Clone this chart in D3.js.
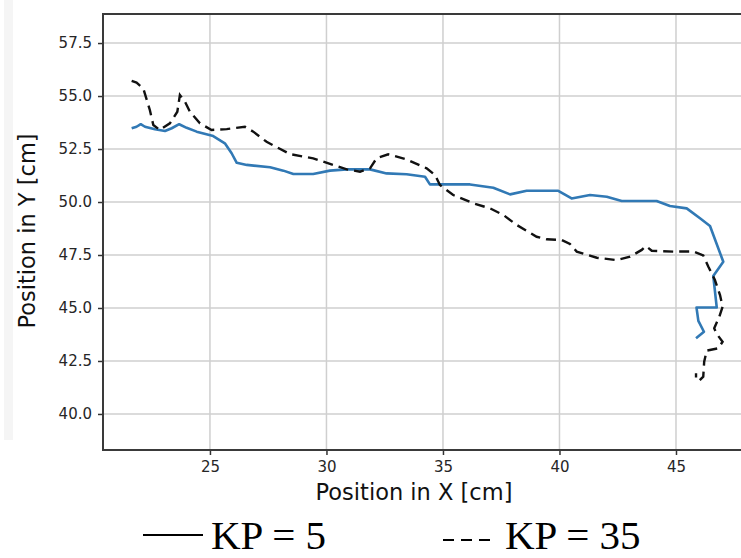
<!DOCTYPE html>
<html lang="en">
<head>
    <meta charset="UTF-8">
    <script src="https://d3js.org/d3.v7.min.js"></script>
    <style>
        html,
        body {
            margin: 0;
            background: #fff;
            overflow: hidden;
        }
    </style>
    <title>Position in X / Y</title>
</head>
<body>
<svg id="svg"></svg>
    <script>
        // KP = 5 path (solid, blue)
        const kp5X = [21.64, 21.85, 22.03, 22.21, 22.64, 23.07, 23.36, 23.68, 24.00, 24.43, 25.14, 25.64, 25.93, 26.15,
            26.58, 27.58, 28.15, 28.58, 29.43, 30.15, 30.87, 31.87, 32.58, 33.44, 34.23, 34.44, 34.87, 36.16, 37.16,
            37.88, 38.59, 39.95, 40.52, 41.31, 42.03, 42.67, 44.17, 44.74, 45.46, 46.03, 46.46, 47.03, 46.60, 46.75,
            45.88, 45.96, 46.20, 45.86];
        const kp5Y = [53.48, 53.55, 53.67, 53.55, 53.43, 53.35, 53.48, 53.67, 53.50, 53.32, 53.11, 52.77, 52.30, 51.85,
            51.75, 51.64, 51.48, 51.32, 51.32, 51.48, 51.54, 51.54, 51.35, 51.31, 51.19, 50.83, 50.83, 50.83, 50.67,
            50.36, 50.53, 50.53, 50.17, 50.33, 50.25, 50.05, 50.05, 49.81, 49.70, 49.23, 48.87, 47.18, 46.51, 45.02,
            45.02, 44.39, 43.88, 43.57];

        // KP = 35 path (dashed, black)
        const kp35X = [21.64, 21.85, 22.14, 22.42, 22.57, 22.85, 23.28, 23.60, 23.71, 23.93, 24.14, 24.57, 25.07, 25.72,
            26.50, 26.86, 27.43, 28.43, 29.43, 30.29, 30.87, 31.44, 31.87, 32.15, 32.65, 33.44, 34.30, 34.66, 34.87,
            35.44, 36.30, 37.02, 37.59, 38.16, 39.02, 39.45, 40.09, 40.45, 40.74, 41.60, 42.45, 43.03, 43.53, 43.71,
            43.96, 44.88, 45.74, 46.17, 46.39, 46.67, 46.89, 47.00, 46.86, 46.64, 46.75, 47.00, 46.82, 46.32, 46.21,
            46.17, 46.00, 45.86, 45.86];
        const kp35Y = [55.71, 55.63, 55.36, 54.34, 53.63, 53.40, 53.71, 54.26, 55.05, 54.73, 54.26, 53.71, 53.40, 53.44,
            53.55, 53.32, 52.84, 52.26, 52.06, 51.75, 51.54, 51.43, 51.59, 52.06, 52.25, 52.01, 51.59, 51.27, 50.80,
            50.33, 49.94, 49.70, 49.39, 48.92, 48.36, 48.24, 48.21, 48.02, 47.66, 47.37, 47.26, 47.42, 47.74, 47.92,
            47.70, 47.66, 47.67, 47.48, 46.95, 46.32, 45.61, 45.06, 44.59, 44.04, 43.77, 43.41, 43.10, 42.99, 42.47,
            41.76, 41.57, 41.64, 41.92];

        const xTicks = [25, 30, 35, 40, 45];
        const yTicks = [40, 42.5, 45, 47.5, 50, 52.5, 55, 57.5];
        const legendLabels = ['KP = 5', 'KP = 35'];

        const width = 741, height = 558;
        const svg = d3.select('#svg').attr('width', width).attr('height', height);
        const margin = { top: 14, left: 103, bottom: 108 };

        // the figure is cropped on the right, so the x range ends at the window edge
        const x = d3.scaleLinear().domain([20.41, 47.79]).range([margin.left, width]);
        const y = d3.scaleLinear().domain([38.30, 58.87]).range([height - margin.bottom, margin.top]);

        // faint strip on the left edge of the scan
        svg.append('rect').attr('x', 4).attr('y', 0).attr('width', 9).attr('height', 440).attr('fill', '#f5f5f5');

        const g = svg.append('g');

        // grid
        g.selectAll('.gx').data(xTicks).join('line')
            .attr('x1', d => x(d)).attr('x2', d => x(d))
            .attr('y1', y.range()[0]).attr('y2', y.range()[1])
            .attr('stroke', '#cfcfcf').attr('stroke-width', 1.5);
        g.selectAll('.gy').data(yTicks).join('line')
            .attr('x1', x.range()[0]).attr('x2', 760)
            .attr('y1', d => y(d)).attr('y2', d => y(d))
            .attr('stroke', '#cfcfcf').attr('stroke-width', 1.5);

        // axes
        const xAxis = g.append('g').attr('transform', `translate(0, ${y.range()[0]})`)
            .call(d3.axisBottom(x).tickValues(xTicks).tickFormat(d3.format('d')).tickSize(5).tickPadding(6));
        const yAxis = g.append('g').attr('transform', `translate(${x.range()[0]}, 0)`)
            .call(d3.axisLeft(y).tickValues(yTicks).tickFormat(d3.format('.1f')).tickSize(5).tickPadding(6));
        [xAxis, yAxis].forEach(a => {
            a.select('.domain').remove();
            a.selectAll('.tick line').attr('stroke', '#333').attr('stroke-width', 1.5);
            a.selectAll('.tick text').attr('fill', '#262626')
                .style('font-family', '"DejaVu Sans", sans-serif').style('font-size', '15px');
        });

        // spines: left, top, bottom (right is cut off)
        const spine = d3.line();
        g.append('path')
            .attr('d', spine([[760, y.range()[1]], [x.range()[0], y.range()[1]], [x.range()[0], y.range()[0]], [760, y.range()[0]]]))
            .attr('fill', 'none').attr('stroke', '#3a3a3a').attr('stroke-width', 2);

        // series
        const line = d3.line().x(d => x(d[0])).y(d => y(d[1]));
        g.append('path').datum(kp5X.map((v, i) => [v, kp5Y[i]]))
            .attr('d', line).attr('fill', 'none')
            .attr('stroke', '#3179b5').attr('stroke-width', 2.6).attr('stroke-linejoin', 'round');
        g.append('path').datum(kp35X.map((v, i) => [v, kp35Y[i]]))
            .attr('d', line).attr('fill', 'none')
            .attr('stroke', '#111').attr('stroke-width', 2.4).attr('stroke-dasharray', '10,6');

        // axis titles
        svg.append('text')
            .attr('x', 414).attr('y', 500).attr('text-anchor', 'middle')
            .style('font-family', '"DejaVu Sans", sans-serif').style('font-size', '22.5px').attr('fill', '#111')
            .text('Position in X [cm]');
        svg.append('text')
            .attr('transform', 'translate(35, 231) rotate(-90)').attr('text-anchor', 'middle')
            .style('font-family', '"DejaVu Sans", sans-serif').style('font-size', '22.5px').attr('fill', '#111')
            .text('Position in Y [cm]');

        // legend under the figure (kept just inside the bottom edge)
        const legend = svg.append('g');
        legend.append('line').attr('x1', 143).attr('x2', 203).attr('y1', 535).attr('y2', 535)
            .attr('stroke', '#000').attr('stroke-width', 2);
        legend.append('line').attr('x1', 443).attr('x2', 492).attr('y1', 540).attr('y2', 540)
            .attr('stroke', '#000').attr('stroke-width', 2).attr('stroke-dasharray', '11,7');
        legend.selectAll('text').data(legendLabels).join('text')
            .attr('x', (d, i) => i === 0 ? 211 : 505).attr('y', 549)
            .style('font-family', '"Liberation Serif", "Times New Roman", serif').style('font-size', '41px')
            .attr('fill', '#000')
            .text(d => d);
    </script>
</body>
</html>
